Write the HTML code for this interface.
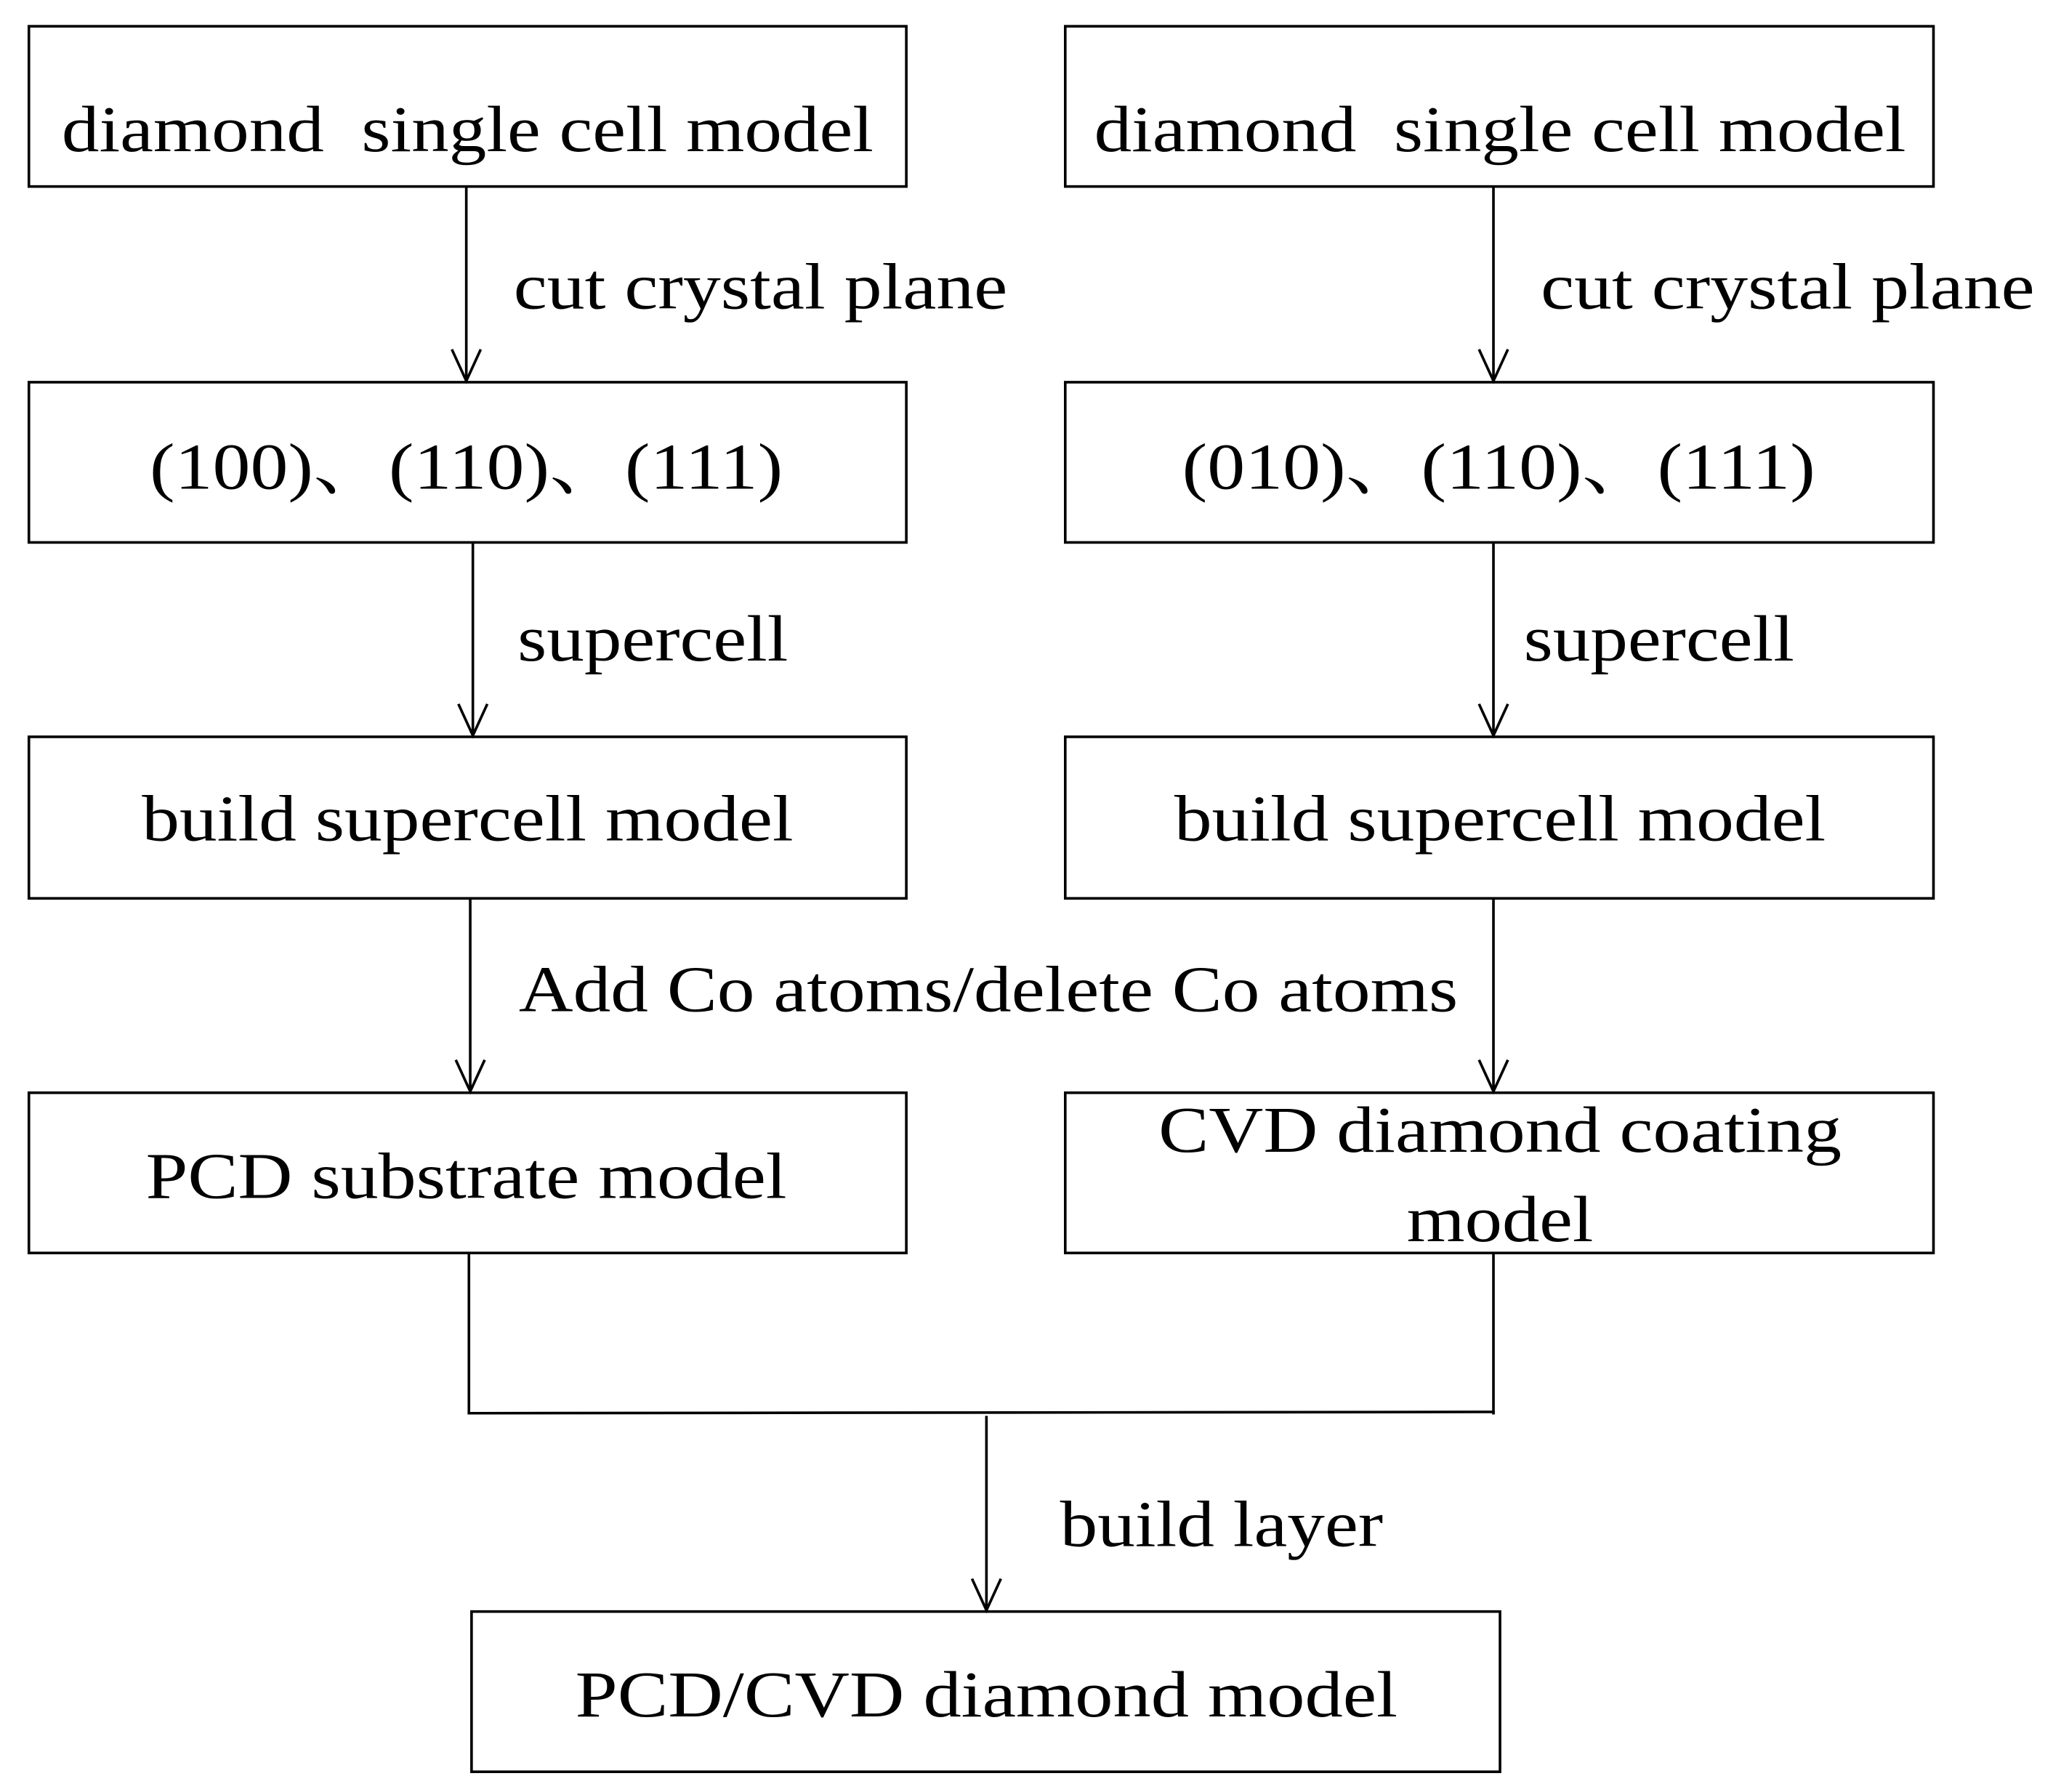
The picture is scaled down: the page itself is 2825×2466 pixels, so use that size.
<!DOCTYPE html>
<html><head><meta charset="utf-8"><style>html,body{margin:0;padding:0;background:#fff}svg{display:block}</style></head>
<body>
<svg width="2825" height="2466" viewBox="0 0 1563 1364.4" preserveAspectRatio="none" xmlns="http://www.w3.org/2000/svg">
<g fill="none" stroke="#000" stroke-width="2">
<rect x="22" y="20" width="668" height="122"/>
<rect x="811" y="20" width="661" height="122"/>
<rect x="22" y="291" width="668" height="122"/>
<rect x="811" y="291" width="661" height="122"/>
<rect x="22" y="561" width="668" height="123"/>
<rect x="811" y="561" width="661" height="123"/>
<rect x="22" y="832" width="668" height="122"/>
<rect x="811" y="832" width="661" height="122"/>
<rect x="359" y="1227" width="783" height="122"/>
<line x1="355" y1="142" x2="355" y2="290"/><polyline points="344,266 355,290 366,266"/>
<line x1="1137" y1="142" x2="1137" y2="290"/><polyline points="1126,266 1137,290 1148,266"/>
<line x1="360" y1="413" x2="360" y2="560"/><polyline points="349,536 360,560 371,536"/>
<line x1="1137" y1="413" x2="1137" y2="560"/><polyline points="1126,536 1137,560 1148,536"/>
<line x1="358" y1="684" x2="358" y2="831"/><polyline points="347,807 358,831 369,807"/>
<line x1="1137" y1="684" x2="1137" y2="831"/><polyline points="1126,807 1137,831 1148,807"/>
<line x1="357" y1="954" x2="357" y2="1077"/>
<line x1="1137" y1="954" x2="1137" y2="1077"/>
<line x1="356" y1="1076" x2="1138" y2="1075"/>
<line x1="751" y1="1078" x2="751" y2="1226"/><polyline points="740,1202 751,1226 762,1202"/>
</g>
<g font-family="'Liberation Serif','Noto Serif CJK SC',serif" font-size="50" fill="#000" lengthAdjust="spacingAndGlyphs">
<text x="47" y="115" textLength="618" lengthAdjust="spacingAndGlyphs" xml:space="preserve">diamond  single cell model</text>
<text x="833" y="115" textLength="618" lengthAdjust="spacingAndGlyphs" xml:space="preserve">diamond  single cell model</text>
<text x="391" y="235" textLength="376" lengthAdjust="spacingAndGlyphs">cut crystal plane</text>
<text x="1173" y="235" textLength="376" lengthAdjust="spacingAndGlyphs">cut crystal plane</text>
<text x="114" y="372" textLength="482" lengthAdjust="spacingAndGlyphs">(100)、(110)、(111)</text>
<text x="900" y="372" textLength="482" lengthAdjust="spacingAndGlyphs">(010)、(110)、(111)</text>
<text x="394" y="503" textLength="206" lengthAdjust="spacingAndGlyphs">supercell</text>
<text x="1160" y="503" textLength="206" lengthAdjust="spacingAndGlyphs">supercell</text>
<text x="108" y="640" textLength="496" lengthAdjust="spacingAndGlyphs">build supercell model</text>
<text x="894" y="640" textLength="496" lengthAdjust="spacingAndGlyphs">build supercell model</text>
<text x="395" y="770" textLength="715" lengthAdjust="spacingAndGlyphs">Add Co atoms/delete Co atoms</text>
<text x="111" y="912" textLength="488" lengthAdjust="spacingAndGlyphs">PCD substrate model</text>
<text x="882" y="877" textLength="520" lengthAdjust="spacingAndGlyphs">CVD diamond coating</text>
<text x="1071" y="945" textLength="142" lengthAdjust="spacingAndGlyphs">model</text>
<text x="807" y="1177" textLength="246" lengthAdjust="spacingAndGlyphs">build layer</text>
<text x="438" y="1307" textLength="626" lengthAdjust="spacingAndGlyphs">PCD/CVD diamond model</text>
</g>
</svg>
</body></html>
